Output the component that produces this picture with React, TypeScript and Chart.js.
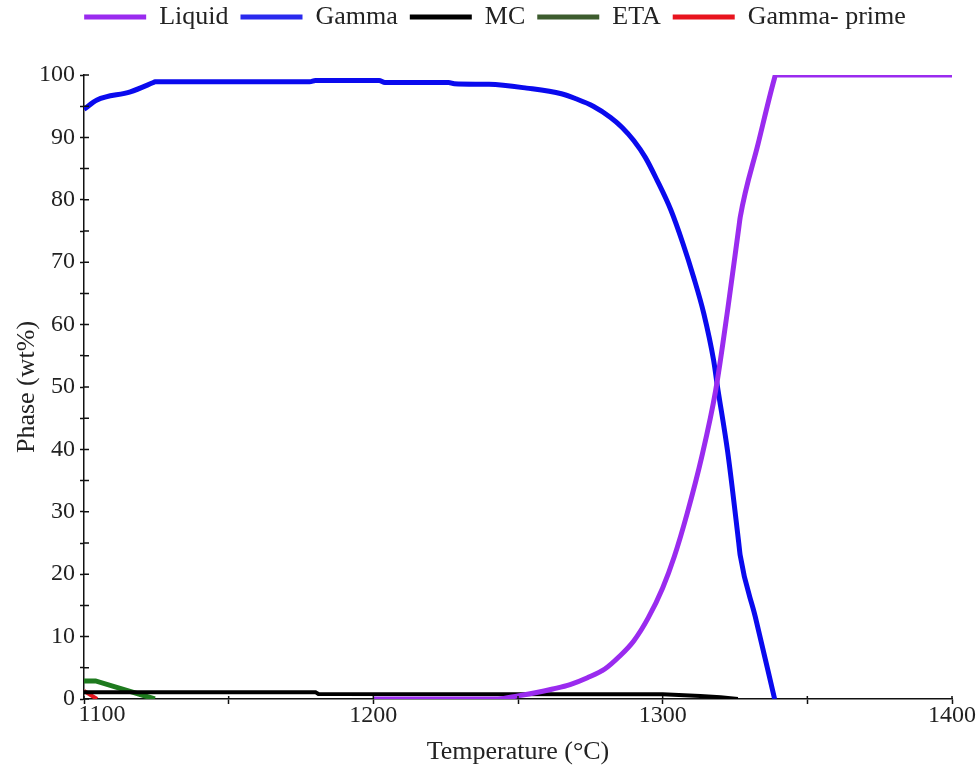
import React, { useEffect, useRef } from 'react';
import { Chart, registerables } from 'chart.js';

Chart.register(...registerables);

// ---- data ----
const xTickLabels = [1100, 1200, 1300, 1400];
const yTickLabels = [0, 10, 20, 30, 40, 50, 60, 70, 80, 90, 100];
const seriesNames = ['Liquid', 'Gamma', 'MC', 'ETA', 'Gamma- prime'];

const liquidT = [1200, 1243, 1250, 1256, 1262, 1268, 1274, 1280, 1285, 1290, 1295, 1300, 1304, 1308.5, 1313.5, 1318.3, 1322.5, 1326.3, 1326.8, 1333, 1338.6, 1339, 1400];
const liquidV = [0, 0, 0.5, 1.0, 1.6, 2.3, 3.4, 4.8, 6.8, 9.3, 13.0, 17.8, 22.8, 29.8, 38.8, 49.4, 62.5, 75.5, 77.2, 89.0, 99.4, 100, 100];

const gammaT = [1100, 1104.5, 1116, 1124, 1124.5, 1178, 1180, 1202, 1204, 1226, 1228, 1240, 1253, 1265, 1270, 1276, 1282, 1286, 1290, 1294, 1298, 1302.8, 1307, 1310.7, 1314.2, 1317.6, 1318.9, 1322.5, 1326.3, 1326.8, 1332, 1338.7];
const gammaV = [94.5, 96.0, 97.3, 98.8, 98.9, 98.9, 99.1, 99.1, 98.8, 98.8, 98.6, 98.5, 97.9, 97.0, 96.2, 95.0, 93.2, 91.6, 89.5, 86.8, 83.2, 78.4, 73.0, 67.6, 61.8, 54.3, 50.2, 39.5, 25.0, 23.0, 13.2, 0];

const mcT = [1100, 1180, 1181, 1300, 1313, 1320, 1326];
const mcV = [1.1, 1.1, 0.8, 0.75, 0.5, 0.3, 0];

const etaT = [1100, 1104, 1124.5];
const etaV = [2.9, 2.9, 0];

const gpT = [1100, 1104.5];
const gpV = [1.3, 0];

// ---- styles ----
const colors = ['#9A2BEF', '#0A0AEE', '#000000', '#1E7A1E', '#E8141E'];
const legendColors = ['#9A2BEF', '#2A2AEE', '#000000', '#3D5C2E', '#E8141E'];
const widths = [5, 5, 4, 5, 4];
const smooth = [true, true, false, false, false];
const FONT_FAMILY = '"Liberation Serif", "Times New Roman", serif';
const TEXT_COLOR = '#222';
const AXIS_COLOR = '#111';

const toPts = (t: number[], v: number[]) => t.map((tt, i) => ({ x: tt, y: v[i] }));
const seriesData = [toPts(liquidT, liquidV), toPts(gammaT, gammaV), toPts(mcT, mcV), toPts(etaT, etaV), toPts(gpT, gpV)];

const LEGEND_EXTRA_H = 27;
const LEGEND_SHIFT_X = 19;
const LEGEND_SHIFT_Y = -8;

const tweaks = {
  id: 'tweaks',
  afterInit(chart: any) {
    const lg = chart.legend;
    if (lg && !lg.__patched) {
      lg.__patched = true;
      const fit = lg.fit;
      lg.fit = function (this: any) {
        fit.call(this);
        this.height += LEGEND_EXTRA_H;
      };
      const draw = lg.draw;
      lg.draw = function (this: any) {
        const c = this.ctx;
        c.save();
        c.translate(LEGEND_SHIFT_X, LEGEND_SHIFT_Y);
        draw.call(this);
        c.restore();
      };
    }
  },
  afterDraw(chart: any) {
    const { ctx } = chart;
    const x = chart.scales.x;
    const y = chart.scales.y;
    ctx.save();
    ctx.strokeStyle = AXIS_COLOR;
    ctx.lineWidth = 1.5;
    ctx.beginPath();
    x.ticks.forEach((t: any) => {
      const p = x.getPixelForValue(t.value);
      ctx.moveTo(p, y.bottom);
      ctx.lineTo(p, y.bottom - 3);
    });
    y.ticks.forEach((t: any) => {
      const p = y.getPixelForValue(t.value);
      ctx.moveTo(x.left, p);
      ctx.lineTo(x.left + 5, p);
    });
    ctx.stroke();
    ctx.font = `24px ${FONT_FAMILY}`;
    ctx.fillStyle = TEXT_COLOR;
    ctx.textAlign = 'center';
    ctx.textBaseline = 'middle';
    ctx.fillText(String(xTickLabels[0]), x.getPixelForValue(xTickLabels[0]) + 18, y.bottom + 4 + 12);
    ctx.restore();
  },
};

export default function App() {
  const ref = useRef<HTMLCanvasElement>(null);
  useEffect(() => {
    if (!ref.current) return;
    const chart = new Chart(ref.current, {
      type: 'line',
      data: {
        datasets: seriesNames.map((name, i) => ({
          label: name,
          data: seriesData[i],
          borderColor: colors[i],
          backgroundColor: colors[i],
          borderWidth: widths[i],
          pointRadius: 0,
          tension: 0,
          cubicInterpolationMode: smooth[i] ? 'monotone' : 'default',
          fill: false,
        })),
      },
      options: {
        responsive: false,
        animation: false,
        devicePixelRatio: 1,
        layout: { padding: { left: 0, right: 27, top: 0, bottom: 0 } },
        plugins: {
          tooltip: { enabled: false },
          legend: {
            display: true,
            position: 'top',
            labels: {
              boxWidth: 62,
              boxHeight: 5,
              padding: 12,
              color: TEXT_COLOR,
              font: { family: FONT_FAMILY, size: 26 },
              generateLabels: (ch: any) =>
                (Chart as any).defaults.plugins.legend.labels
                  .generateLabels(ch)
                  .map((l: any, i: number) => ({ ...l, fillStyle: legendColors[i], lineWidth: 0 })),
            },
          },
        },
        scales: {
          x: {
            type: 'linear',
            min: 1100,
            max: 1400,
            afterFit: (s: any) => {
              s.height = 73;
            },
            ticks: {
              stepSize: 50,
              autoSkip: false,
              maxRotation: 0,
              padding: 0,
              color: TEXT_COLOR,
              font: { family: FONT_FAMILY, size: 24, lineHeight: 1 },
              callback: (v: any) => (xTickLabels.includes(v) && v !== xTickLabels[0] ? String(v) : ''),
            },
            grid: { drawOnChartArea: false, tickLength: 5, tickColor: AXIS_COLOR, tickWidth: 1.5 },
            border: { color: AXIS_COLOR, width: 1.5 },
            title: {
              display: true,
              text: 'Temperature (°C)',
              color: TEXT_COLOR,
              font: { family: FONT_FAMILY, size: 26 },
              padding: { top: 4, bottom: 4 },
            },
          },
          y: {
            min: 0,
            max: 100,
            afterFit: (s: any) => {
              s.width = 84;
            },
            ticks: {
              stepSize: 5,
              autoSkip: false,
              padding: 5,
              color: TEXT_COLOR,
              font: { family: FONT_FAMILY, size: 24 },
              callback: (v: any) => (yTickLabels.includes(v) ? String(v) : ''),
            },
            grid: { drawOnChartArea: false, tickLength: 4, tickColor: AXIS_COLOR, tickWidth: 1.5 },
            border: { color: AXIS_COLOR, width: 1.5 },
            title: {
              display: true,
              text: 'Phase (wt%)',
              color: TEXT_COLOR,
              font: { family: FONT_FAMILY, size: 26 },
              padding: { top: 12, bottom: 12 },
            },
          },
        },
      } as any,
      plugins: [tweaks],
    });
    return () => chart.destroy();
  }, []);
  return (
    <div style={{ position: 'fixed', left: 0, top: 0, width: 979, height: 772, background: '#fff' }}>
      <canvas ref={ref} width={979} height={772} style={{ display: 'block' }} />
    </div>
  );
}
